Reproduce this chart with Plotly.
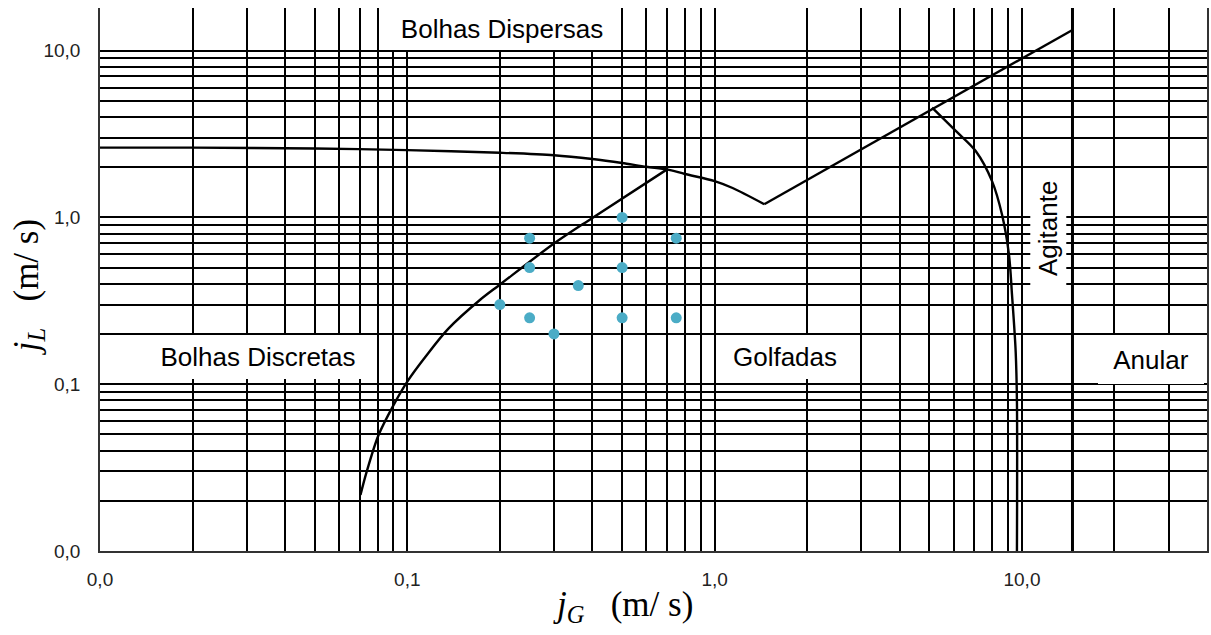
import numpy as np
import plotly.graph_objects as go

# Flow-pattern map, superficial velocities jG (gas) and jL (liquid), m/s

# Dispersed-bubble boundary (upper curve)
disp_jg = [0.01, 0.02, 0.05, 0.1, 0.2, 0.3, 0.4, 0.5, 0.6, 0.7, 0.8, 1.0, 1.144, 1.45]
disp_jl = [2.62, 2.62, 2.59, 2.53, 2.44, 2.36, 2.24, 2.12, 2.01, 1.94, 1.82, 1.65, 1.50, 1.20]

# Slug / dispersed boundary continuation (straight line up to annular limit)
upper_jg = [1.45, 14.6]
upper_jl = [1.20, 13.3]

# Discrete-bubble boundary (rising curve)
disc_jg = [0.0704, 0.0736, 0.0805, 0.0901, 0.1007, 0.1144, 0.1358, 0.1726, 0.2, 0.3, 0.4, 0.7]
disc_jl = [0.0217, 0.0295, 0.0493, 0.0747, 0.1057, 0.1455, 0.2145, 0.3207, 0.395, 0.697, 0.993, 1.94]

# Churn boundary (descending curve)
churn_jg = [5.1, 6.09, 7.07, 7.99, 8.61, 9.07, 9.28, 9.54, 9.63, 9.63]
churn_jl = [4.55, 3.30, 2.50, 1.65, 1.04, 0.60, 0.344, 0.156, 0.078, 0.01]

# Annular boundary (vertical line)
annular_jg = [14.6, 14.6]
annular_jl = [0.01, 18.0]

# Experimental points
exp_jg = [0.25, 0.5, 0.75, 0.25, 0.5, 0.36, 0.2, 0.25, 0.5, 0.75, 0.3]
exp_jl = [0.75, 1.0, 0.75, 0.5, 0.5, 0.39, 0.3, 0.25, 0.25, 0.25, 0.2]

# Axis ticks
tick_vals = [0.01, 0.1, 1, 10]
tick_text = ["0,0", "0,1", "1,0", "10,0"]

W, H = 1211, 635
ML, MR, MT, MB = 100, 2, 8, 84
PW, PH = W - ML - MR, H - MT - MB


def px_x(p):
    return (p - ML) / PW


def px_y(p):
    return (H - MB - p) / PH


fig = go.Figure()

line_style = dict(color="black", width=2.4)
fig.add_trace(go.Scatter(x=disp_jg, y=disp_jl, mode="lines",
                         line=dict(line_style, shape="spline", smoothing=0.8)))
fig.add_trace(go.Scatter(x=upper_jg, y=upper_jl, mode="lines", line=line_style))
fig.add_trace(go.Scatter(x=disc_jg, y=disc_jl, mode="lines",
                         line=dict(line_style, shape="spline", smoothing=0.9)))
fig.add_trace(go.Scatter(x=churn_jg, y=churn_jl, mode="lines",
                         line=dict(line_style, shape="spline", smoothing=0.9)))
fig.add_trace(go.Scatter(x=annular_jg, y=annular_jl, mode="lines", line=dict(color="black", width=3)))
fig.add_trace(go.Scatter(x=exp_jg, y=exp_jl, mode="markers",
                         marker=dict(color="#4BACC6", size=11, line=dict(width=0))))

# Region labels on white boxes that blank out the grid behind them
# (text, box left, box right, box top, box bottom, angle) in pixels
label_font = dict(family="Liberation Sans, Arial", size=26, color="black")
labels = [("Bolhas Dispersas", 388, 618, 8, 50, 0),
          ("Bolhas Discretas", 146, 370, 335, 379, 0),
          ("Golfadas", 722, 850, 335, 379, 0),
          ("Anular", 1100, 1206, 335, 384, 0),
          ("Agitante", 1032, 1068, 170, 286, -90)]
for txt, x0, x1, y0, y1, ang in labels:
    w, h = (x1 - x0, y1 - y0) if ang == 0 else (y1 - y0, x1 - x0)
    fig.add_annotation(text=txt, xref="paper", yref="paper",
                       x=px_x((x0 + x1) / 2), y=px_y((y0 + y1) / 2),
                       width=w, height=h, borderpad=0, borderwidth=0, bgcolor="white",
                       showarrow=False, font=label_font, textangle=ang,
                       xanchor="center", yanchor="middle", align="center", valign="middle")

title_font = dict(family="Liberation Serif, Times New Roman", size=35, color="black")
fig.add_annotation(text="<i>j</i><sub><i>G</i></sub>   (m/ s)", xref="paper", yref="paper",
                   x=px_x(624), y=px_y(606), showarrow=False, font=title_font,
                   xanchor="center", yanchor="middle")
fig.add_annotation(text="<i>j</i><sub><i>L</i></sub>   (m/ s)", xref="paper", yref="paper",
                   x=px_x(28), y=px_y(287), showarrow=False, font=title_font, textangle=-90,
                   xanchor="center", yanchor="middle")

grid = dict(showgrid=True, gridcolor="black", gridwidth=1.6)
minor = dict(dtick="D1", showgrid=True, gridcolor="black", gridwidth=1.6, ticks="")
tick_font = dict(family="Liberation Sans, Arial", size=19, color="#222")
fig.update_xaxes(type="log", range=[-2, np.log10(40)], tickmode="array", tickvals=tick_vals,
                 ticktext=tick_text, ticks="", showline=True, linecolor="#333", linewidth=1.6,
                 zeroline=False, tickfont=tick_font, ticklabelstandoff=10, minor=minor, **grid)
fig.update_yaxes(type="log", range=[-2, np.log10(18)], tickmode="array", tickvals=tick_vals,
                 ticktext=tick_text, ticks="", showline=True, mirror=True, linecolor="#333",
                 linewidth=1.6, zeroline=False, tickfont=tick_font, ticklabelstandoff=14,
                 minor=minor, **grid)

fig.update_layout(width=W, height=H, margin=dict(l=ML, r=MR, t=MT, b=MB),
                  paper_bgcolor="white", plot_bgcolor="white", showlegend=False)

fig.write_html("out.html")
